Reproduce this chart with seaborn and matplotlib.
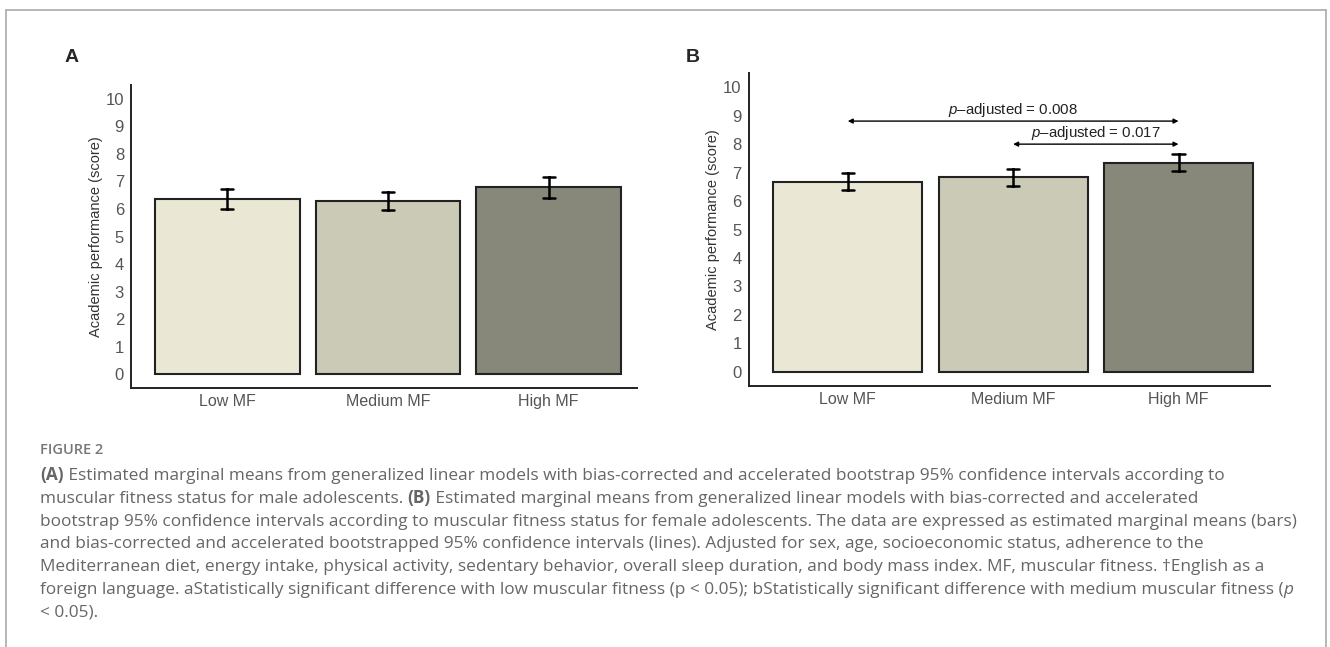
"""Estimated marginal means of academic performance by muscular fitness (male / female panels)."""

import matplotlib

matplotlib.use("Agg")

import matplotlib.pyplot as plt
import pandas as pd
import seaborn as sns
from matplotlib.lines import Line2D

# -----------------------------------------------------------------------------
# Data
# -----------------------------------------------------------------------------

categories = ["Low MF", "Medium MF", "High MF"]

male_mean = [6.36, 6.29, 6.79]
male_lo = [6.01, 5.96, 6.41]
male_hi = [6.72, 6.63, 7.16]

female_mean = [6.68, 6.83, 7.35]
female_lo = [6.39, 6.53, 7.05]
female_hi = [7.00, 7.11, 7.65]

bar_colors = ["#EDEBD2", "#CDCDB3", "#898A77"]
y_ticks = list(range(0, 11))

# (from, to, label) comparisons drawn on panel B
comparisons_b = [
    ("Low MF", "High MF", "0.008"),
    ("Medium MF", "High MF", "0.017"),
]
comparison_heights = [8.81, 8.0]

caption_title = "FIGURE 2"
caption_lines = [
    [("(A)", "bold"), (" Estimated marginal means from generalized linear models with bias-corrected and "
                      "accelerated bootstrap 95% confidence intervals according to", "normal")],
    [("muscular fitness status for male adolescents. ", "normal"), ("(B)", "bold"),
     (" Estimated marginal means from generalized linear models with bias-corrected and accelerated", "normal")],
    [("bootstrap 95% confidence intervals according to muscular fitness status for female adolescents. "
      "The data are expressed as estimated marginal means (bars)", "normal")],
    [("and bias-corrected and accelerated bootstrapped 95% confidence intervals (lines). Adjusted for sex, "
      "age, socioeconomic status, adherence to the", "normal")],
    [("Mediterranean diet, energy intake, physical activity, sedentary behavior, overall sleep duration, "
      "and body mass index. MF, muscular fitness. \u2020English as a", "normal")],
    [("foreign language. aStatistically significant difference with low muscular fitness (p < 0.05); "
      "bStatistically significant difference with medium muscular fitness (", "normal"), ("p", "italic")],
    [("< 0.05).", "normal")],
]

W, H = 1330, 647


def long_frame(mean, lo, hi):
    # three rows per group: median = mean, min/max = CI bounds
    rows = []
    for cat, m, a, b in zip(categories, mean, lo, hi):
        for v in (a, m, b):
            rows.append({"group": cat, "score": v})
    return pd.DataFrame(rows)


def fx(px):
    return px / W


def fy(px):
    return 1 - px / H


def draw_panel(ax, mean, lo, hi):
    df = long_frame(mean, lo, hi)
    sns.barplot(
        data=df,
        x="group",
        y="score",
        hue="group",
        order=categories,
        hue_order=categories,
        palette=bar_colors,
        estimator="median",
        errorbar=("pi", 100),
        capsize=0.075,
        err_kws={"color": "black", "linewidth": 1.8},
        width=0.9,
        edgecolor="#222222",
        linewidth=1.5,
        legend=False,
        ax=ax,
    )
    ax.set_xlim(-0.6, 2.55)
    ax.set_ylim(-0.5, 10.5)
    ax.set_yticks(y_ticks)
    ax.set_xlabel("")
    ax.set_ylabel("Academic performance (score)", fontsize=10.5, color="#333333", labelpad=2)
    ax.tick_params(axis="both", length=0, colors="#555555")
    ax.tick_params(axis="y", labelsize=12, pad=5)
    ax.tick_params(axis="x", labelsize=11.5, pad=4)
    sns.despine(ax=ax)
    for side in ("left", "bottom"):
        ax.spines[side].set_color("#222222")
        ax.spines[side].set_linewidth(1.4)


def draw_caption(fig):
    renderer = fig.canvas.get_renderer()
    color = "#666666"
    fig.text(fx(40), fy(454), caption_title, fontsize=10.5, fontweight="semibold",
             color="#777777", family=["Open Sans", "DejaVu Sans"], va="baseline")
    base = 480.0
    step = 22.8
    for i, segments in enumerate(caption_lines):
        x = 40.0
        y = base + i * step
        for text, style in segments:
            kw = {"fontweight": "bold"} if style == "bold" else {}
            if style == "italic":
                kw = {"fontstyle": "italic"}
            t = fig.text(fx(x), fy(y), text, fontsize=12.4, color=color,
                         family=["Open Sans", "DejaVu Sans"], va="baseline", **kw)
            x += t.get_window_extent(renderer).width


def main():
    sns.set_theme(style="white")
    plt.rcParams["font.family"] = ["Liberation Sans", "DejaVu Sans"]
    plt.rcParams["mathtext.fontset"] = "custom"
    plt.rcParams["mathtext.rm"] = "Liberation Sans"
    plt.rcParams["mathtext.it"] = "Liberation Sans:italic"

    fig = plt.figure(figsize=(W / 100, H / 100), dpi=100)
    ax_a = fig.add_axes([fx(131), fy(388), fx(637 - 131), (388 - 85) / H])
    ax_b = fig.add_axes([fx(748.5), fy(386), fx(1269.5 - 748.5), (386 - 73) / H])

    draw_panel(ax_a, male_mean, male_lo, male_hi)
    draw_panel(ax_b, female_mean, female_lo, female_hi)

    # pairwise comparison arrows on panel B
    for (c0, c1, p), yv in zip(comparisons_b, comparison_heights):
        x0, x1 = categories.index(c0), categories.index(c1)
        ax_b.annotate(
            "", xy=(x1, yv), xytext=(x0, yv),
            arrowprops=dict(arrowstyle="<|-|>", color="black", lw=1.0,
                            mutation_scale=7, shrinkA=0, shrinkB=0),
        )
        ax_b.text((x0 + x1) / 2, yv + 0.38, r"$\mathit{p}$" + "\u2013adjusted = " + p,
                  ha="center", va="center", fontsize=10.8, color="#222222")

    fig.text(fx(72), fy(57), "A", fontsize=14, fontweight="bold", ha="center", va="center")
    fig.text(fx(693), fy(57), "B", fontsize=14, fontweight="bold", ha="center", va="center")

    # open frame round the figure (no bottom edge)
    frame_color = "#AAAAAA"
    fig.add_artist(Line2D([fx(6), fx(6)], [0, fy(10)], color=frame_color, lw=1.2))
    fig.add_artist(Line2D([fx(6), fx(1326)], [fy(10), fy(10)], color=frame_color, lw=1.2))
    fig.add_artist(Line2D([fx(1326), fx(1326)], [fy(10), 0], color=frame_color, lw=1.2))

    draw_caption(fig)

    fig.savefig("out.png", dpi=100)


if __name__ == "__main__":
    main()
